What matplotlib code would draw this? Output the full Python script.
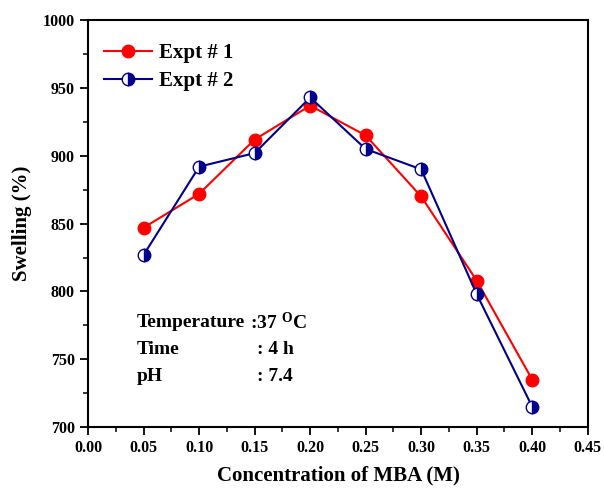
import matplotlib
matplotlib.use("Agg")
import matplotlib.pyplot as plt
from matplotlib.ticker import MultipleLocator

plt.rcParams['font.family'] = ['Liberation Serif', 'DejaVu Serif']
plt.rcParams['font.weight'] = 'bold'
plt.rcParams['mathtext.fontset'] = 'custom'
plt.rcParams['mathtext.bf'] = 'Liberation Serif:bold'

conc = [0.05, 0.10, 0.15, 0.20, 0.25, 0.30, 0.35, 0.40]
expt1 = [847, 872, 912, 937, 915, 870, 808, 735]
expt2 = [827, 892, 902, 943, 905, 890, 798, 715]

fig = plt.figure(figsize=(6.04, 4.92), dpi=100)
ax = fig.add_axes([0.146, 0.132, 0.827, 0.827])

ax.plot(conc, expt1, color='#ff0000', lw=1.5, marker='o', ms=9,
        mfc='#ff0000', mec='#ff0000', label='Expt # 1', zorder=3)
ax.plot(conc, expt2, color='#00008b', lw=1.5, marker='o', ms=9,
        fillstyle='right', mfc='#00008b', mfcalt='white', mec='#00008b',
        mew=1.0, label='Expt # 2', zorder=4)

ax.set_xlim(0.0, 0.45)
ax.set_ylim(700, 1000)
ax.xaxis.set_major_locator(MultipleLocator(0.05))
ax.xaxis.set_minor_locator(MultipleLocator(0.025))
ax.yaxis.set_major_locator(MultipleLocator(50))
ax.yaxis.set_minor_locator(MultipleLocator(25))
ax.xaxis.set_major_formatter(plt.FuncFormatter(lambda v, p: f"{v:.2f}"))
ax.tick_params(which='major', direction='out', length=6, width=1.3, labelsize=11.5)
ax.tick_params(which='minor', direction='out', length=3.5, width=1.1)
for lab in ax.get_xticklabels() + ax.get_yticklabels():
    lab.set_fontweight('bold')
for s in ax.spines.values():
    s.set_linewidth(1.5)

ax.set_xlabel('Concentration of MBA (M)', fontsize=15, fontweight='bold', labelpad=7)
ax.set_ylabel('Swelling (%)', fontsize=15, fontweight='bold', labelpad=8)

leg = ax.legend(loc='upper left', bbox_to_anchor=(-0.005, 0.99), frameon=False,
                fontsize=15, handlelength=2.3, labelspacing=0.4,
                handletextpad=0.3)
for t in leg.get_texts():
    t.set_fontweight('bold')

kw = dict(fontsize=14, fontweight='bold', va='center', ha='left')
ax.text(0.044, 777, 'Temperature', **kw)
ax.text(0.1455, 777, ':37 $\\mathbf{^{O}}$C', **kw)
ax.text(0.044, 757, 'Time', **kw)
ax.text(0.152, 757, ': 4 h', **kw)
ax.text(0.044, 737.5, 'pH', **kw)
ax.text(0.152, 737.5, ': 7.4', **kw)

fig.savefig('out.png', dpi=100)
